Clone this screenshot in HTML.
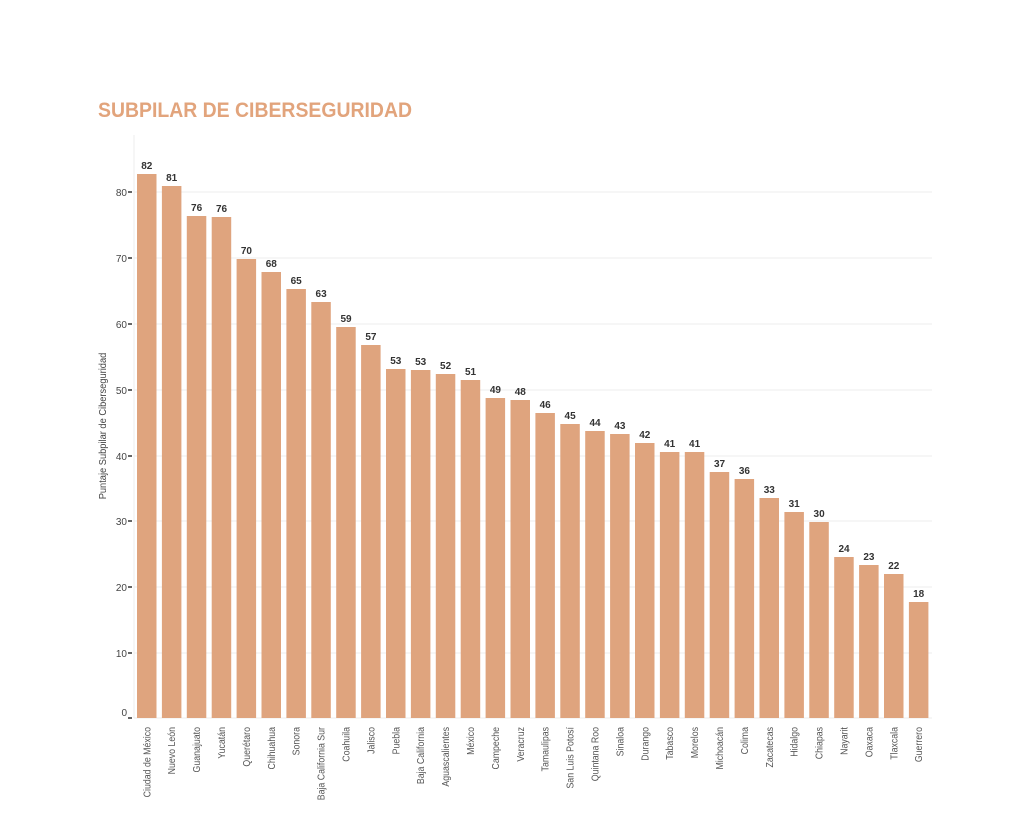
<!DOCTYPE html>
<html><head><meta charset="utf-8"><style>
html,body{margin:0;padding:0;background:#fff;}
svg{display:block;}
.t{font-family:"Liberation Sans Narrow","Liberation Sans",sans-serif;}
</style></head><body>
<svg width="1024" height="816" viewBox="0 0 1024 816" xmlns="http://www.w3.org/2000/svg">
<text x="98" y="117" class="t" font-size="21" font-weight="bold" fill="#e2a47c" textLength="314" lengthAdjust="spacingAndGlyphs">SUBPILAR DE CIBERSEGURIDAD</text>
<g stroke="#ececec" stroke-width="1">
<line x1="134" y1="192" x2="932" y2="192"/><line x1="134" y1="258" x2="932" y2="258"/>
<line x1="134" y1="324" x2="932" y2="324"/><line x1="134" y1="390" x2="932" y2="390"/>
<line x1="134" y1="456" x2="932" y2="456"/><line x1="134" y1="521" x2="932" y2="521"/>
<line x1="134" y1="587" x2="932" y2="587"/><line x1="134" y1="653" x2="932" y2="653"/>
<line x1="134" y1="718" x2="932" y2="718"/><line x1="134" y1="135" x2="134" y2="718"/>
</g>
<g stroke="#333" stroke-width="1.5">
<line x1="128" y1="192" x2="132" y2="192"/><line x1="128" y1="258" x2="132" y2="258"/>
<line x1="128" y1="324" x2="132" y2="324"/><line x1="128" y1="390" x2="132" y2="390"/>
<line x1="128" y1="456" x2="132" y2="456"/><line x1="128" y1="521" x2="132" y2="521"/>
<line x1="128" y1="587" x2="132" y2="587"/><line x1="128" y1="653" x2="132" y2="653"/>
<line x1="128" y1="718" x2="132" y2="718"/>
</g>
<g class="t" font-size="10" fill="#444" text-anchor="end">
<text x="127" y="196">80</text><text x="127" y="262">70</text><text x="127" y="328">60</text>
<text x="127" y="394">50</text><text x="127" y="460">40</text><text x="127" y="525">30</text>
<text x="127" y="591">20</text><text x="127" y="657">10</text><text x="127" y="716">0</text>
</g>
<text class="t" font-size="10" fill="#444" text-anchor="middle" transform="translate(106,426) rotate(-90) scale(0.93,1)">Puntaje Subpilar de Ciberseguridad</text>
<g fill="#dfa47e">
<rect x="137" y="174" width="19.5" height="544"/>
<rect x="161.9" y="186" width="19.5" height="532"/>
<rect x="186.8" y="216" width="19.5" height="502"/>
<rect x="211.7" y="217" width="19.5" height="501"/>
<rect x="236.6" y="259" width="19.5" height="459"/>
<rect x="261.5" y="272" width="19.5" height="446"/>
<rect x="286.4" y="289" width="19.5" height="429"/>
<rect x="311.3" y="302" width="19.5" height="416"/>
<rect x="336.2" y="327" width="19.5" height="391"/>
<rect x="361.1" y="345" width="19.5" height="373"/>
<rect x="386" y="369" width="19.5" height="349"/>
<rect x="410.9" y="370" width="19.5" height="348"/>
<rect x="435.8" y="374" width="19.5" height="344"/>
<rect x="460.7" y="380" width="19.5" height="338"/>
<rect x="485.6" y="398" width="19.5" height="320"/>
<rect x="510.5" y="400" width="19.5" height="318"/>
<rect x="535.4" y="413" width="19.5" height="305"/>
<rect x="560.3" y="424" width="19.5" height="294"/>
<rect x="585.2" y="431" width="19.5" height="287"/>
<rect x="610.1" y="434" width="19.5" height="284"/>
<rect x="635" y="443" width="19.5" height="275"/>
<rect x="659.9" y="452" width="19.5" height="266"/>
<rect x="684.8" y="452" width="19.5" height="266"/>
<rect x="709.7" y="472" width="19.5" height="246"/>
<rect x="734.6" y="479" width="19.5" height="239"/>
<rect x="759.5" y="498" width="19.5" height="220"/>
<rect x="784.4" y="512" width="19.5" height="206"/>
<rect x="809.3" y="522" width="19.5" height="196"/>
<rect x="834.2" y="557" width="19.5" height="161"/>
<rect x="859.1" y="565" width="19.5" height="153"/>
<rect x="884" y="574" width="19.5" height="144"/>
<rect x="908.9" y="602" width="19.5" height="116"/>
</g>
<g class="t" font-size="10" font-weight="bold" fill="#333" text-anchor="middle">
<text x="146.8" y="169">82</text><text x="171.7" y="181">81</text><text x="196.6" y="211">76</text>
<text x="221.5" y="212">76</text><text x="246.4" y="254">70</text><text x="271.3" y="267">68</text>
<text x="296.2" y="284">65</text><text x="321.1" y="297">63</text><text x="346" y="322">59</text>
<text x="370.9" y="340">57</text><text x="395.8" y="364">53</text><text x="420.7" y="365">53</text>
<text x="445.6" y="369">52</text><text x="470.5" y="375">51</text><text x="495.4" y="393">49</text>
<text x="520.3" y="395">48</text><text x="545.2" y="408">46</text><text x="570.1" y="419">45</text>
<text x="595" y="426">44</text><text x="619.9" y="429">43</text><text x="644.8" y="438">42</text>
<text x="669.7" y="447">41</text><text x="694.6" y="447">41</text><text x="719.5" y="467">37</text>
<text x="744.4" y="474">36</text><text x="769.3" y="493">33</text><text x="794.2" y="507">31</text>
<text x="819.1" y="517">30</text><text x="844" y="552">24</text><text x="868.9" y="560">23</text>
<text x="893.8" y="569">22</text><text x="918.7" y="597">18</text>
</g>
<g class="t" font-size="10" fill="#555" text-anchor="end">
<text transform="translate(150.3,727) rotate(-90) scale(0.88,1)">Ciudad de México</text>
<text transform="translate(175.2,727) rotate(-90) scale(0.88,1)">Nuevo León</text>
<text transform="translate(200.1,727) rotate(-90) scale(0.88,1)">Guanajuato</text>
<text transform="translate(225,727) rotate(-90) scale(0.88,1)">Yucatán</text>
<text transform="translate(249.9,727) rotate(-90) scale(0.88,1)">Querétaro</text>
<text transform="translate(274.8,727) rotate(-90) scale(0.88,1)">Chihuahua</text>
<text transform="translate(299.7,727) rotate(-90) scale(0.88,1)">Sonora</text>
<text transform="translate(324.6,727) rotate(-90) scale(0.88,1)">Baja California Sur</text>
<text transform="translate(349.5,727) rotate(-90) scale(0.88,1)">Coahuila</text>
<text transform="translate(374.4,727) rotate(-90) scale(0.88,1)">Jalisco</text>
<text transform="translate(399.3,727) rotate(-90) scale(0.88,1)">Puebla</text>
<text transform="translate(424.2,727) rotate(-90) scale(0.88,1)">Baja California</text>
<text transform="translate(449.1,727) rotate(-90) scale(0.88,1)">Aguascalientes</text>
<text transform="translate(474,727) rotate(-90) scale(0.88,1)">México</text>
<text transform="translate(498.9,727) rotate(-90) scale(0.88,1)">Campeche</text>
<text transform="translate(523.8,727) rotate(-90) scale(0.88,1)">Veracruz</text>
<text transform="translate(548.7,727) rotate(-90) scale(0.88,1)">Tamaulipas</text>
<text transform="translate(573.6,727) rotate(-90) scale(0.88,1)">San Luis Potosí</text>
<text transform="translate(598.5,727) rotate(-90) scale(0.88,1)">Quintana Roo</text>
<text transform="translate(623.4,727) rotate(-90) scale(0.88,1)">Sinaloa</text>
<text transform="translate(648.3,727) rotate(-90) scale(0.88,1)">Durango</text>
<text transform="translate(673.2,727) rotate(-90) scale(0.88,1)">Tabasco</text>
<text transform="translate(698.1,727) rotate(-90) scale(0.88,1)">Morelos</text>
<text transform="translate(723,727) rotate(-90) scale(0.88,1)">Michoacán</text>
<text transform="translate(747.9,727) rotate(-90) scale(0.88,1)">Colima</text>
<text transform="translate(772.8,727) rotate(-90) scale(0.88,1)">Zacatecas</text>
<text transform="translate(797.7,727) rotate(-90) scale(0.88,1)">Hidalgo</text>
<text transform="translate(822.6,727) rotate(-90) scale(0.88,1)">Chiapas</text>
<text transform="translate(847.5,727) rotate(-90) scale(0.88,1)">Nayarit</text>
<text transform="translate(872.4,727) rotate(-90) scale(0.88,1)">Oaxaca</text>
<text transform="translate(897.3,727) rotate(-90) scale(0.88,1)">Tlaxcala</text>
<text transform="translate(922.2,727) rotate(-90) scale(0.88,1)">Guerrero</text>
</g>
</svg>
</body></html>
